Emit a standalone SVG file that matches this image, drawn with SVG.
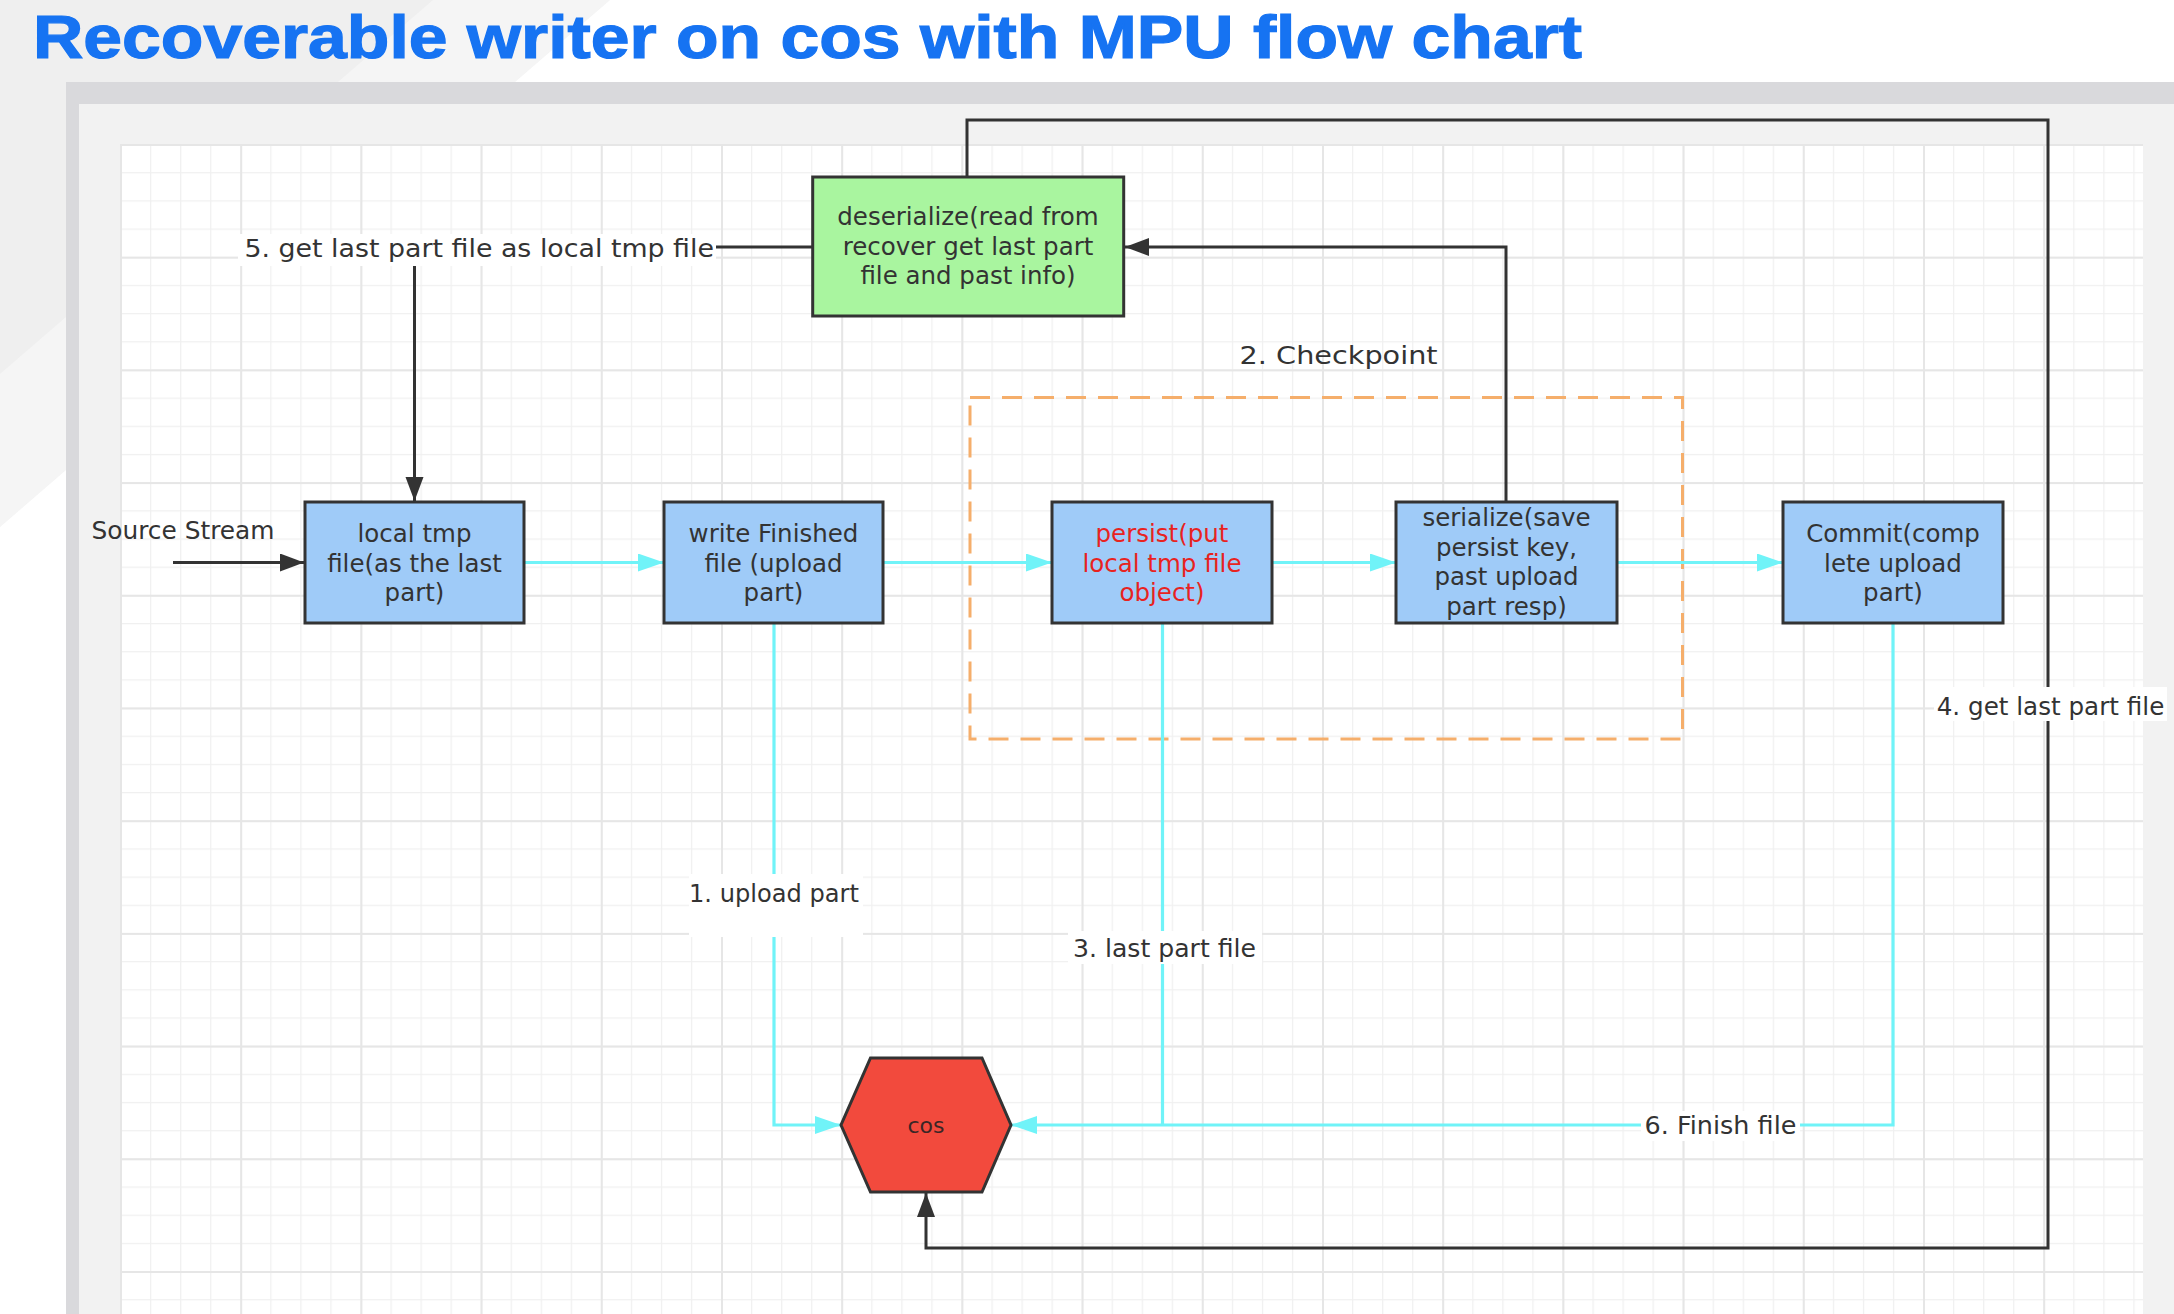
<svg xmlns="http://www.w3.org/2000/svg" width="2174" height="1314" viewBox="0 0 2174 1314">
<defs>
<style>
.box{fill:#9fcbf8;stroke:#333;stroke-width:3}
.t{font-family:"DejaVu Sans",sans-serif;font-size:24.5px;fill:#333;text-anchor:middle}
.lbl{font-family:"DejaVu Sans",sans-serif;font-size:25px;fill:#333}
.bg{fill:#fff}
.cy{fill:none;stroke:#70f3f8;stroke-width:3.2}
.bk{fill:none;stroke:#333;stroke-width:3}
</style>
<pattern id="gmin" x="120" y="144" width="30.05" height="28.175" patternUnits="userSpaceOnUse">
<path d="M0.5 0 V28.175 M0 0.5 H30.05" stroke="#f0f0f0" stroke-width="1.5" fill="none"/>
</pattern>
<pattern id="gmaj" x="120" y="144" width="120.2" height="112.7" patternUnits="userSpaceOnUse">
<path d="M1 0 V112.7 M0 1 H120.2" stroke="#e6e6e6" stroke-width="2" fill="none"/>
</pattern>
<marker id="ab" markerUnits="userSpaceOnUse" markerWidth="26" markerHeight="20" refX="24" refY="9" orient="auto">
<path d="M0 0 L24 9 L0 18 Z" fill="#333"/>
</marker>
<marker id="ac" markerUnits="userSpaceOnUse" markerWidth="28" markerHeight="20" refX="26" refY="9" orient="auto">
<path d="M0 0 L26 9 L0 18 Z" fill="#70f3f8"/>
</marker>
</defs>
<g id="background">
<rect x="0" y="0" width="2174" height="1314" fill="#efefef"/>
<polygon points="433,0 610,0 0,527 0,374" fill="#f5f5f5"/>
<polygon points="610,0 2174,0 2174,1314 0,1314 0,527" fill="#ffffff"/>
<rect x="66" y="82" width="2108" height="1232" fill="#d9d9dc"/>
<rect x="79" y="104" width="2095" height="1210" fill="#f2f2f2"/>
<rect x="120" y="144" width="2023" height="1170" fill="#ffffff"/>
<rect x="120" y="144" width="2023" height="1170" fill="url(#gmin)"/>
<rect x="120" y="144" width="2023" height="1170" fill="url(#gmaj)"/>
</g>
<text id="title" x="33" y="58" font-family="'Liberation Sans',sans-serif" font-weight="bold" font-size="62" fill="#1673f2" stroke="#1673f2" stroke-width="1.2" textLength="1549" lengthAdjust="spacingAndGlyphs">Recoverable writer on cos with MPU flow chart</text>
<g id="checkpoint">
<rect x="970" y="397.5" width="712.5" height="341.5" fill="none" stroke="#f5ae6b" stroke-width="3" stroke-dasharray="20 12"/>
<text class="lbl" x="1239.6" y="363.5" font-size="27" textLength="198" lengthAdjust="spacingAndGlyphs">2. Checkpoint</text>
</g>
<g id="connectors">
<path class="cy" d="M524 562.5 H664" marker-end="url(#ac)"/>
<path class="cy" d="M883 562.5 H1052" marker-end="url(#ac)"/>
<path class="cy" d="M1272 562.5 H1396" marker-end="url(#ac)"/>
<path class="cy" d="M1617 562.5 H1783" marker-end="url(#ac)"/>
<path class="cy" d="M774 623 V1125 H841" marker-end="url(#ac)"/>
<path class="cy" d="M1162.5 623 V1125"/>
<path class="cy" d="M1893 623 V1125 H1011" marker-end="url(#ac)"/>
<path class="bk" d="M173 562.5 H304" marker-end="url(#ab)"/>
<path class="bk" d="M967 177 V120 H2048 V1248 H926 V1193" marker-end="url(#ab)"/>
<path class="bk" d="M1506 502 V247 H1125" marker-end="url(#ab)"/>
<path class="bk" d="M812 247 H714"/>
<path class="bk" d="M414.5 266 V501" marker-end="url(#ab)"/>
<rect class="bg" x="689" y="874" width="174" height="63"/>
<text class="lbl" x="774" y="902" text-anchor="middle" textLength="170" lengthAdjust="spacingAndGlyphs">1. upload part</text>
<rect class="bg" x="1068" y="931" width="194" height="33"/>
<text class="lbl" x="1164.5" y="956.7" text-anchor="middle" textLength="183" lengthAdjust="spacingAndGlyphs">3. last part file</text>
<rect class="bg" x="1934" y="687" width="233" height="34"/>
<text class="lbl" x="1936.7" y="715.3" textLength="227.6" lengthAdjust="spacingAndGlyphs">4. get last part file</text>
<rect class="bg" x="238" y="234" width="478" height="32"/>
<text class="lbl" x="244.4" y="257.3" font-size="26.5" textLength="469.6" lengthAdjust="spacingAndGlyphs">5. get last part file as local tmp file</text>
<rect class="bg" x="1641" y="1111" width="159" height="30"/>
<text class="lbl" x="1720.5" y="1134" text-anchor="middle" textLength="151.8" lengthAdjust="spacingAndGlyphs">6. Finish file</text>
<text class="lbl" x="91.5" y="539.3" textLength="183" lengthAdjust="spacingAndGlyphs">Source Stream</text>
</g>
<g id="local-tmp">
<rect class="box" x="305" y="502" width="219" height="121"/>
<text class="t" x="414.5" y="542.3">local tmp</text>
<text class="t" x="414.5" y="571.7">file(as the last</text>
<text class="t" x="414.5" y="601">part)</text>
</g>
<g id="write-finished">
<rect class="box" x="664" y="502" width="219" height="121"/>
<text class="t" x="773.5" y="542.3">write Finished</text>
<text class="t" x="773.5" y="571.7">file (upload</text>
<text class="t" x="773.5" y="601">part)</text>
</g>
<g id="persist">
<rect class="box" x="1052" y="502" width="220" height="121"/>
<text class="t" x="1162" y="542.3" style="fill:#e8231f">persist(put</text>
<text class="t" x="1162" y="571.7" style="fill:#e8231f">local tmp file</text>
<text class="t" x="1162" y="601" style="fill:#e8231f">object)</text>
</g>
<g id="serialize">
<rect class="box" x="1396" y="502" width="221" height="121"/>
<text class="t" x="1506.5" y="526">serialize(save</text>
<text class="t" x="1506.5" y="555.5">persist key,</text>
<text class="t" x="1506.5" y="585">past upload</text>
<text class="t" x="1506.5" y="614.5">part resp)</text>
</g>
<g id="commit">
<rect class="box" x="1783" y="502" width="220" height="121"/>
<text class="t" x="1893" y="542.3">Commit(comp</text>
<text class="t" x="1893" y="571.7">lete upload</text>
<text class="t" x="1893" y="601">part)</text>
</g>
<g id="deserialize">
<rect x="812.7" y="177" width="311" height="139" fill="#a9f59f" stroke="#333" stroke-width="3"/>
<text class="t" x="968" y="225">deserialize(read from</text>
<text class="t" x="968" y="254.5">recover get last part</text>
<text class="t" x="968" y="284">file and past info)</text>
</g>
<g id="cos">
<polygon points="870.5,1058 982,1058 1011,1125 982,1192 870.5,1192 841,1125" fill="#f24a3d" stroke="#333" stroke-width="3"/>
<text x="926" y="1133" font-family="'DejaVu Sans',sans-serif" font-size="22" fill="#3a2626" text-anchor="middle">cos</text>
</g>
</svg>
